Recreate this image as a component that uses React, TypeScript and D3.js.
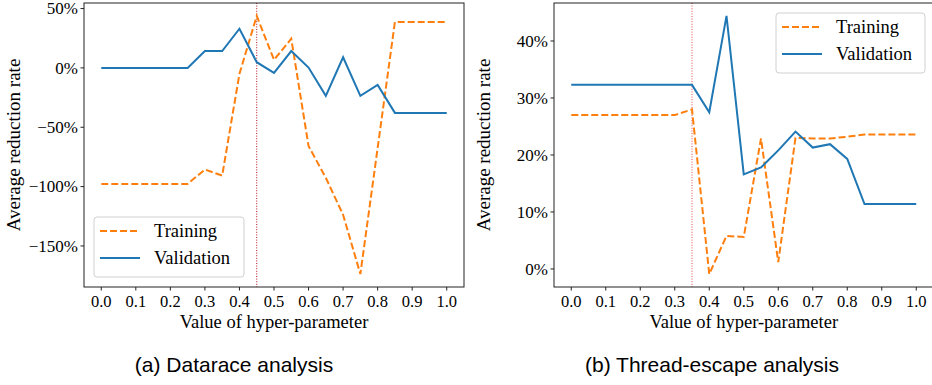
import React from 'react';
import * as d3 from 'd3';

// hyper-parameter values (x axis)
const xs = [0, 0.05, 0.1, 0.15, 0.2, 0.25, 0.3, 0.35, 0.4, 0.45, 0.5,
  0.55, 0.6, 0.65, 0.7, 0.75, 0.8, 0.85, 0.9, 0.95, 1.0];
const xTicks = [0, 0.1, 0.2, 0.3, 0.4, 0.5, 0.6, 0.7, 0.8, 0.9, 1.0];

// (a) Datarace analysis, in %
const dataraceTraining = [-97.7, -97.7, -97.7, -97.7, -97.7, -97.7, -85.6, -90.7, -5, 43.8, 6.8,
  24.6, -65.8, -92.6, -123.7, -173.7, -67.5, 38.7, 38.7, 38.7, 38.7];
const dataraceValidation = [0, 0, 0, 0, 0, 0, 14.2, 14.2, 33, 4.8, -4.2,
  14.2, 0.3, -23.5, 9, -23.5, -14.4, -37.9, -37.9, -37.9, -37.9];
const dataraceTicks = [-150, -100, -50, 0, 50];

// (b) Thread-escape analysis, in %
const threadTraining = [27.0, 27.0, 27.0, 27.0, 27.0, 27.0, 27.0, 28.0, -0.9, 5.8, 5.6,
  22.9, 1.2, 23.0, 22.9, 22.9, 23.2, 23.6, 23.6, 23.6, 23.6];
const threadValidation = [32.3, 32.3, 32.3, 32.3, 32.3, 32.3, 32.3, 32.3, 27.5, 44.4, 16.6,
  17.8, 20.8, 24.1, 21.3, 21.9, 19.3, 11.4, 11.4, 11.4, 11.4];
const threadTicks = [0, 10, 20, 30, 40];

const seriesNames = ['Training', 'Validation'];
const blue = '#1f77b4', orange = '#ff7f0e';
const serif = '"Liberation Serif", "Times New Roman", serif';
const sans = '"Liberation Sans", Arial, sans-serif';

const fmtPct = (v: number) => (v < 0 ? '\u2212' + Math.abs(v) : '' + v) + '%';

type PanelProps = {
  left: number; right: number; top: number; bottom: number;
  training: number[]; validation: number[]; yTicks: number[];
  vline: number; vcolor: string;
  legend: { x: number; y: number; w: number; h: number };
  caption: string; captionX: number;
};

function Panel(p: PanelProps) {
  const x = d3.scaleLinear().domain([-0.05, 1.05]).range([p.left, p.right]);
  const all = p.training.concat(p.validation);
  const [lo, hi] = d3.extent(all) as [number, number];
  const pad = (hi - lo) * 0.05;
  const y = d3.scaleLinear().domain([lo - pad, hi + pad]).range([p.bottom, p.top]);
  const line = d3.line<number>().x((_, i) => x(xs[i])).y(d => y(d));
  const midX = (p.left + p.right) / 2;
  const midY = (p.top + p.bottom) / 2;
  const lg = p.legend;
  return (
    <g>
      <defs>
        <clipPath id={'clip' + p.left}>
          <rect x={p.left} y={p.top} width={p.right - p.left} height={p.bottom - p.top} />
        </clipPath>
      </defs>
      <g clipPath={`url(#clip${p.left})`}>
        <line x1={x(p.vline)} x2={x(p.vline)} y1={p.top} y2={p.bottom}
          stroke={p.vcolor} strokeWidth={1} strokeDasharray="1,1.6" />
        <path d={line(p.training) || ''} fill="none" stroke={orange} strokeWidth={2}
          strokeDasharray="7,3" />
        <path d={line(p.validation) || ''} fill="none" stroke={blue} strokeWidth={2} />
      </g>
      <rect x={p.left} y={p.top} width={p.right - p.left} height={p.bottom - p.top}
        fill="none" stroke="#222" strokeWidth={1} />
      {xTicks.map(t => (
        <g key={'x' + t}>
          <line x1={x(t)} x2={x(t)} y1={p.bottom} y2={p.bottom + 3.5} stroke="#222" />
          <text x={x(t)} y={p.bottom + 20} textAnchor="middle" fontFamily={serif} fontSize={16.5}>
            {t.toFixed(1)}
          </text>
        </g>
      ))}
      {p.yTicks.map(t => (
        <g key={'y' + t}>
          <line x1={p.left - 3.5} x2={p.left} y1={y(t)} y2={y(t)} stroke="#222" />
          <text x={p.left - 6} y={y(t)} dy="0.34em" textAnchor="end" fontFamily={serif} fontSize={17}>
            {fmtPct(t)}
          </text>
        </g>
      ))}
      <text x={midX} y={p.bottom + 41} textAnchor="middle" fontFamily={serif} fontSize={18.5}>
        Value of hyper-parameter
      </text>
      <text transform={`translate(${p.left - 64},${midY}) rotate(-90)`} textAnchor="middle"
        fontFamily={serif} fontSize={19}>
        Average reduction rate
      </text>
      <rect x={lg.x} y={lg.y} width={lg.w} height={lg.h} rx={3} fill="white" fillOpacity={0.8}
        stroke="#d0d0d0" strokeWidth={1} />
      {seriesNames.map((n, i) => {
        const ly = lg.y + 14 + i * 27;
        return (
          <g key={n}>
            <line x1={lg.x + 6} x2={lg.x + 46} y1={ly} y2={ly} stroke={i === 0 ? orange : blue}
              strokeWidth={2} strokeDasharray={i === 0 ? '7,3' : undefined} />
            <text x={lg.x + 60} y={ly} dy="0.35em" fontFamily={serif} fontSize={18.5}>{n}</text>
          </g>
        );
      })}
      <text x={p.captionX} y={372} textAnchor="middle" fontFamily={sans} fontSize={21}>
        {p.caption}
      </text>
    </g>
  );
}

export default function App() {
  return (
    <svg width={932} height={385} style={{ position: 'absolute', left: 0, top: 0, background: 'white' }}>
      <Panel left={84} right={464} top={3} bottom={287}
        training={dataraceTraining} validation={dataraceValidation} yTicks={dataraceTicks}
        vline={0.45} vcolor="#b0101a"
        legend={{ x: 94, y: 217, w: 150, h: 60 }}
        caption="(a) Datarace analysis" captionX={234} />
      <Panel left={554} right={933.5} top={3} bottom={287}
        training={threadTraining} validation={threadValidation} yTicks={threadTicks}
        vline={0.35} vcolor="#e0484c"
        legend={{ x: 776, y: 13, w: 149, h: 60 }}
        caption="(b) Thread-escape analysis" captionX={712} />
    </svg>
  );
}
